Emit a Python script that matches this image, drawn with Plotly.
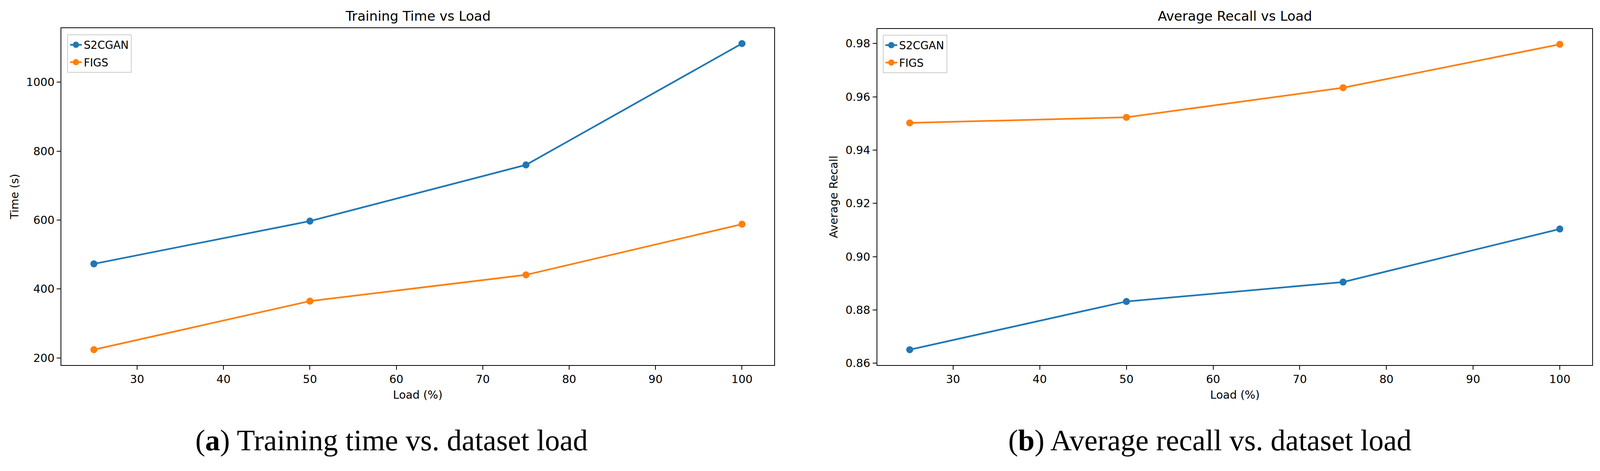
import plotly.graph_objects as go

# reference picture size (pixels); positions below are read in these pixels
W, H = 4372, 1205
# css size of the page the file is shown in, and the default body margin
VW, VH = 4096, 1205
BODY = 8
S = 0.95  # scale for fonts and strokes

# data
load = [25, 50, 75, 100]
time_s2cgan = [473, 597, 760, 1112]
time_figs = [224, 365, 441, 588]
recall_s2cgan = [0.8651, 0.8832, 0.8905, 0.9104]
recall_figs = [0.9502, 0.9523, 0.9634, 0.9797]

series_names = ["S2CGAN", "FIGS"]
colors = ["#1f77b4", "#ff7f0e"]

panel_titles = ["Training Time vs Load", "Average Recall vs Load"]
y_titles = ["Time (s)", "Average Recall"]
x_title = "Load (%)"
captions = [
    "(<b>a</b>) Training time vs. dataset load",
    "(<b>b</b>) Average recall vs. dataset load",
]
x_ticks = [30, 40, 50, 60, 70, 80, 90, 100]
time_ticks = [200, 400, 600, 800, 1000]
recall_ticks = [0.86, 0.88, 0.90, 0.92, 0.94, 0.96, 0.98]

SANS = "DejaVu Sans"
SERIF = "Liberation Serif"


def px_x(p):
    return (p / W * VW - BODY) / (VW - 2 * BODY)


def px_y(p):
    return 1 - (p / H * VH - BODY) / (VH - 2 * BODY)


def sz(p):
    return p * S


def padded(vals, frac=0.05):
    lo, hi = min(vals), max(vals)
    pad = (hi - lo) * frac
    return [lo - pad, hi + pad]


# axes boxes in reference pixels (left, right, top, bottom)
boxes = [(168, 2116, 73, 944), (2397, 4351, 75, 944)]
ylabel_x = [40, 2278]
caption_x = [1070, 3306]
legend_pos = [(184, 89), (2412, 90)]

fig = go.Figure()

panels = [
    (time_s2cgan, time_figs),
    (recall_s2cgan, recall_figs),
]
for i, (ys_a, ys_b) in enumerate(panels):
    xa = "x" if i == 0 else "x2"
    ya = "y" if i == 0 else "y2"
    leg = "legend" if i == 0 else "legend2"
    for name, ys, c in zip(series_names, (ys_a, ys_b), colors):
        fig.add_trace(
            go.Scatter(
                x=load,
                y=ys,
                mode="lines+markers",
                name=name,
                legendgroup=f"{leg}-{name}",
                line=dict(color=c, width=sz(4.5)),
                marker=dict(color=c, size=sz(19)),
                xaxis=xa,
                yaxis=ya,
                legend=leg,
            )
        )

axis_common = dict(
    showline=True,
    mirror=True,
    linecolor="black",
    linewidth=sz(2.4),
    ticks="outside",
    ticklen=sz(10.5),
    tickwidth=sz(2.4),
    tickcolor="black",
    showgrid=False,
    zeroline=False,
    tickfont=dict(family=SANS, size=sz(30), color="black"),
)

xr = padded(load)
(l0, r0, t0, b0), (l1, r1, t1, b1) = boxes
fig.update_layout(
    xaxis=dict(domain=[px_x(l0), px_x(r0)], range=xr, tickvals=x_ticks,
               anchor="y", **axis_common),
    yaxis=dict(domain=[px_y(b0), px_y(t0)],
               range=padded(time_s2cgan + time_figs), tickvals=time_ticks,
               anchor="x", **axis_common),
    xaxis2=dict(domain=[px_x(l1), px_x(r1)], range=xr, tickvals=x_ticks,
                anchor="y2", **axis_common),
    yaxis2=dict(domain=[px_y(b1), px_y(t1)],
                range=padded(recall_s2cgan + recall_figs), tickvals=recall_ticks,
                tickformat=".2f", anchor="x2", **axis_common),
)

legend_style = dict(
    font=dict(family=SANS, size=sz(29), color="black"),
    bgcolor="rgba(255,255,255,0.8)",
    bordercolor="#cccccc",
    borderwidth=2,
    xanchor="left",
    yanchor="top",
    tracegroupgap=sz(6),
)
fig.update_layout(
    legend=dict(x=px_x(legend_pos[0][0]), y=px_y(legend_pos[0][1]), **legend_style),
    legend2=dict(x=px_x(legend_pos[1][0]), y=px_y(legend_pos[1][1]), **legend_style),
)

annotations = []
for i, (l, r, t, b) in enumerate(boxes):
    cx = (l + r) / 2
    annotations.append(dict(
        text=panel_titles[i], x=px_x(cx), y=px_y(41), xref="paper", yref="paper",
        xanchor="center", yanchor="middle", showarrow=False,
        font=dict(family=SANS, size=sz(36), color="black"),
    ))
    annotations.append(dict(
        text=x_title, x=px_x(cx), y=px_y(1022), xref="paper", yref="paper",
        xanchor="center", yanchor="middle", showarrow=False,
        font=dict(family=SANS, size=sz(30), color="black"),
    ))
    annotations.append(dict(
        text=y_titles[i], x=px_x(ylabel_x[i]), y=px_y((t + b) / 2),
        xref="paper", yref="paper", xanchor="center", yanchor="middle",
        textangle=-90, showarrow=False,
        font=dict(family=SANS, size=sz(30), color="black"),
    ))
    annotations.append(dict(
        text=captions[i], x=px_x(caption_x[i]), y=px_y(1139),
        xref="paper", yref="paper", xanchor="center", yanchor="middle",
        showarrow=False,
        font=dict(family=SERIF, size=sz(80), color="black"),
    ))

fig.update_layout(
    annotations=annotations,
    margin=dict(l=0, r=0, t=0, b=0),
    paper_bgcolor="white",
    plot_bgcolor="white",
    showlegend=True,
)

fig.write_html("out.html")
